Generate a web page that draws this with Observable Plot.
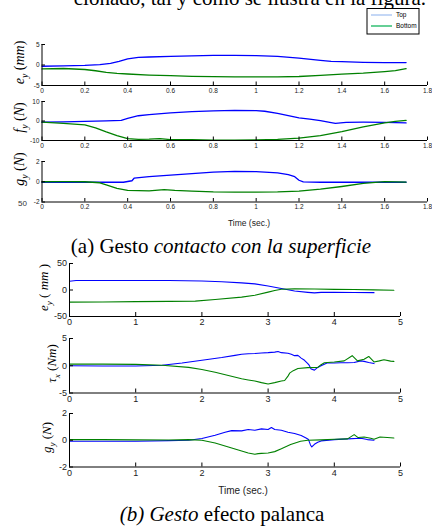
<!DOCTYPE html>
<html><head><meta charset="utf-8">
<script src="https://cdn.jsdelivr.net/npm/d3@7"></script>
<script src="https://cdn.jsdelivr.net/npm/@observablehq/plot@0.6"></script>
<style>
html,body{margin:0;padding:0;background:#fff;}
#page{position:relative;width:432px;height:526px;overflow:hidden;background:#fff;}
</style></head><body><div id="page"></div>
<script>
// ---------- data (a) contacto con la superficie ----------
const aXTicks = [0,0.2,0.4,0.6,0.8,1,1.2,1.4,1.6,1.8];
const aEyTicks = [-5,0,5];
const aFyTicks = [-10,0,10];
const aGyTicks = [-2,0,2];
const aEyTop = [[0,-0.3],[0.1,-0.2],[0.2,-0.1],[0.27,0.1],[0.32,0.4],[0.36,0.9],[0.4,1.5],[0.45,1.85],[0.5,1.95],[0.6,2.1],[0.7,2.25],[0.8,2.35],[0.9,2.35],[1.0,2.3],[1.1,2.1],[1.2,1.7],[1.3,1.15],[1.35,0.9],[1.4,0.8],[1.5,0.65],[1.6,0.6],[1.7,0.6]];
const aEyBot = [[0,-0.95],[0.1,-0.85],[0.2,-1.1],[0.25,-1.4],[0.3,-1.8],[0.35,-2.05],[0.4,-2.2],[0.5,-2.45],[0.6,-2.6],[0.7,-2.75],[0.8,-2.85],[0.9,-2.9],[1.0,-2.9],[1.1,-2.9],[1.2,-2.8],[1.3,-2.55],[1.4,-2.25],[1.5,-2.0],[1.6,-1.6],[1.65,-1.35],[1.7,-0.9]];
const aFyTop = [[0,-0.6],[0.1,-0.5],[0.2,-0.2],[0.3,0.1],[0.37,0.3],[0.4,1.3],[0.45,2.7],[0.5,3.3],[0.6,4.2],[0.7,4.8],[0.8,5.2],[0.9,5.5],[1.0,5.3],[1.04,5.0],[1.1,3.9],[1.15,2.7],[1.2,1.6],[1.25,1.0],[1.3,0.2],[1.35,-0.8],[1.37,-1.2],[1.42,-0.7],[1.5,-0.6],[1.6,-0.7],[1.7,-1.0]];
const aFyBot = [[0,-0.6],[0.1,-1.2],[0.2,-2.0],[0.25,-3.5],[0.3,-5.6],[0.35,-7.5],[0.4,-9.0],[0.45,-9.4],[0.5,-9.3],[0.55,-9.0],[0.6,-9.5],[0.7,-9.6],[0.8,-9.8],[0.9,-9.8],[1.0,-9.7],[1.1,-9.4],[1.2,-8.8],[1.3,-7.5],[1.4,-5.4],[1.5,-3.0],[1.6,-1.0],[1.65,-0.2],[1.7,0.3]];
const aGyTop = [[0,-0.07],[0.2,-0.05],[0.38,-0.05],[0.42,0.1],[0.43,0.35],[0.5,0.5],[0.6,0.65],[0.7,0.8],[0.8,0.95],[0.9,1.03],[1.0,1.0],[1.1,0.88],[1.15,0.7],[1.18,0.5],[1.2,0.15],[1.22,-0.02],[1.3,-0.05],[1.5,-0.05],[1.7,-0.05]];
const aGyBot = [[0,0.0],[0.1,0.02],[0.2,0.0],[0.27,-0.1],[0.3,-0.3],[0.35,-0.65],[0.4,-0.85],[0.5,-0.9],[0.57,-0.78],[0.62,-0.85],[0.7,-0.92],[0.8,-1.0],[0.9,-1.03],[1.0,-1.03],[1.1,-1.0],[1.2,-0.92],[1.3,-0.73],[1.4,-0.47],[1.5,-0.17],[1.6,0.02],[1.7,-0.03]];

// ---------- data (b) efecto palanca ----------
const bXTicks = [0,1,2,3,4,5];
const bEyTicks = [-50,0,50];
const bTxTicks = [-5,0,5];
const bGyTicks = [-2,0,2];
const bEyTop = [[0,16.5],[0.1,18],[1,18],[1.5,18],[2,17],[2.3,15.5],[2.6,13.5],[2.8,11.5],[3.0,7.5],[3.2,2.8],[3.4,-2],[3.6,-4.5],[3.7,-5.5],[3.8,-4.5],[4.0,-4.5],[4.3,-4.8],[4.6,-5]];
const bEyBot = [[0,-22.8],[0.5,-22.5],[1,-22],[1.5,-21.5],[1.9,-21],[2.2,-18],[2.6,-13.5],[2.8,-10],[3.0,-4],[3.1,-1],[3.2,1.5],[3.4,2.2],[3.7,1.8],[4.0,1.2],[4.3,1],[4.6,0.3],[4.9,-0.5]];
const bTxTop = [[0,0],[0.5,-0.05],[1,-0.05],[1.4,0.1],[1.7,0.5],[2.0,1.0],[2.3,1.5],[2.5,1.9],[2.6,2.1],[2.7,2.2],[2.8,2.25],[2.9,2.35],[3.0,2.4],[3.1,2.5],[3.15,2.6],[3.2,2.4],[3.3,2.3],[3.35,2.1],[3.4,1.85],[3.45,1.9],[3.5,1.4],[3.55,1.0],[3.6,0.4],[3.62,0.1],[3.65,-0.6],[3.7,-0.8],[3.75,-0.3],[3.8,0.0],[3.89,0.5],[4.0,0.5],[4.1,0.55],[4.2,0.55],[4.3,0.6],[4.4,0.9],[4.45,0.8],[4.52,0.6],[4.6,0.4]];
const bTxBot = [[0,0.3],[0.5,0.3],[1,0.25],[1.4,0.1],[1.8,-0.3],[2.0,-0.7],[2.2,-1.2],[2.4,-1.8],[2.6,-2.4],[2.7,-2.6],[2.8,-2.8],[2.9,-3.1],[3.0,-3.35],[3.1,-3.1],[3.2,-2.8],[3.25,-2.7],[3.3,-1.9],[3.33,-1.3],[3.38,-0.9],[3.45,-0.5],[3.6,-0.35],[3.75,-0.3],[3.8,0.2],[3.85,0.55],[4.0,0.7],[4.15,0.9],[4.27,1.85],[4.35,0.9],[4.45,1.2],[4.52,1.7],[4.6,0.7],[4.68,0.9],[4.75,1.1],[4.85,0.85],[4.9,0.8]];
const bGyTop = [[0,-0.07],[0.5,-0.08],[1,-0.07],[1.5,-0.03],[1.8,0.0],[2.0,0.13],[2.2,0.37],[2.35,0.6],[2.45,0.72],[2.6,0.7],[2.7,0.8],[2.8,0.75],[2.9,0.85],[3.0,0.8],[3.05,0.95],[3.1,0.8],[3.2,0.75],[3.3,0.6],[3.4,0.5],[3.5,0.35],[3.58,0.15],[3.61,0.05],[3.64,-0.35],[3.66,-0.5],[3.7,-0.3],[3.75,-0.15],[3.8,-0.05],[4.0,0.05],[4.2,0.1],[4.4,0.15],[4.5,0.05],[4.6,0.0]];
const bGyBot = [[0,0.05],[0.5,0.05],[1,0.03],[1.5,0.02],[1.8,0.05],[2.0,0.0],[2.2,-0.2],[2.4,-0.5],[2.5,-0.65],[2.6,-0.8],[2.7,-0.95],[2.8,-1.05],[2.85,-1.0],[2.9,-0.98],[3.0,-0.95],[3.1,-0.85],[3.2,-0.64],[3.34,-0.32],[3.49,-0.07],[3.6,0.0],[3.8,0.03],[4.0,0.07],[4.2,0.1],[4.3,0.42],[4.36,0.2],[4.45,0.24],[4.55,0.15],[4.6,0.07],[4.69,0.24],[4.8,0.2],[4.9,0.17]];

const seriesNames = ["Top","Bottom"];
const BLUE = "#0000ff", GREEN = "#008000";

const page = document.getElementById("page");

function panel(cfg) {
  const mt = 6, mb = 18;
  const h = cfg.bottom - cfg.top;
  const [y0, y1] = cfg.yDomain, [x0, x1] = cfg.xDomain;
  const ky = h / (y1 - y0), kx = (cfg.right - cfg.left) / (x1 - x0);
  const fmt = d => String(+d.toFixed(2));
  const plot = Plot.plot({
    width: 432, height: h + mt + mb,
    marginTop: mt, marginBottom: mb, marginLeft: cfg.left, marginRight: 432 - cfg.right,
    x: {domain: cfg.xDomain, axis: null},
    y: {domain: cfg.yDomain, axis: null},
    style: {background: "transparent", overflow: "visible", fontFamily: "'Liberation Sans', Arial, sans-serif"},
    marks: [
      Plot.line(cfg.top_s, {x: d => d[0], y: d => d[1], stroke: BLUE, strokeWidth: cfg.sw, strokeLinejoin: "round"}),
      Plot.line(cfg.bot_s, {x: d => d[0], y: d => d[1], stroke: GREEN, strokeWidth: cfg.sw, strokeLinejoin: "round"}),
      Plot.ruleY([y0], {x1: () => x0, x2: () => x1, stroke: "#000", strokeWidth: 1}),
      Plot.ruleX([x0], {y1: () => y0, y2: () => y1, stroke: "#000", strokeWidth: 1}),
      Plot.ruleX(cfg.xTicks, {x: d => d, y1: () => y0, y2: () => y0 + cfg.tick / ky, stroke: "#000"}),
      Plot.ruleY(cfg.yTicks, {y: d => d, x1: () => x0, x2: () => x0 + cfg.tick / kx, stroke: "#000"}),
      Plot.text(cfg.xTicks, {x: d => d, y: () => y0, text: fmt, lineAnchor: "top", dy: cfg.pad, fontSize: cfg.fs, fill: "#222"}),
      Plot.text(cfg.yTicks, {x: () => x0, y: d => d, text: fmt, textAnchor: "end", dx: -cfg.padY, fontSize: cfg.fs, fill: "#222"})
    ]
  });
  plot.style.position = "absolute";
  plot.style.left = "0px";
  plot.style.top = (cfg.top - mt) + "px";
  page.appendChild(plot);
}

const A = {left: 41.5, right: 427, xDomain: [0, 1.8], xTicks: aXTicks, fs: 6.5, pad: 2.5, padY: 2.5, tick: 3.5, sw: 1.3};
panel({...A, top: 43.5, bottom: 84.5, yDomain: [-5, 5], yTicks: aEyTicks, top_s: aEyTop, bot_s: aEyBot});
panel({...A, top: 101, bottom: 140, yDomain: [-10, 10], yTicks: aFyTicks, top_s: aFyTop, bot_s: aFyBot});
panel({...A, top: 161, bottom: 201.5, yDomain: [-2, 2], yTicks: aGyTicks, top_s: aGyTop, bot_s: aGyBot});

const B = {left: 69, right: 400, xDomain: [0, 5], xTicks: bXTicks, fs: 9, pad: 2.5, padY: 2.5, tick: 4, sw: 1.1};
panel({...B, top: 262.5, bottom: 315.5, yDomain: [-50, 50], yTicks: bEyTicks, top_s: bEyTop, bot_s: bEyBot});
panel({...B, top: 337.5, bottom: 392, yDomain: [-5, 5], yTicks: bTxTicks, top_s: bTxTop, bot_s: bTxBot});
panel({...B, top: 412.5, bottom: 466, yDomain: [-2, 2], yTicks: bGyTicks, top_s: bGyTop, bot_s: bGyBot});

// ---------- overlay texts ----------
const svg = d3.select(page).append("svg")
  .attr("width", 432).attr("height", 526)
  .style("position", "absolute").style("left", "0px").style("top", "0px")
  .style("pointer-events", "none");

const SERIF = "'Liberation Serif', 'Times New Roman', serif";
const SANS = "'Liberation Sans', Arial, sans-serif";

function ylab(x, y, fs, sym, sub, unit) {
  const t = svg.append("text")
    .attr("transform", `translate(${x},${y}) rotate(-90)`)
    .attr("text-anchor", "middle")
    .attr("font-family", SERIF).attr("font-size", fs).attr("fill", "#000");
  const off = fs * 0.28;
  t.append("tspan").attr("font-style", "italic").text(sym);
  t.append("tspan").attr("font-style", "italic").attr("font-size", fs * 0.7).attr("dy", off).text(sub);
  t.append("tspan").attr("dy", -off).text(" (");
  t.append("tspan").attr("font-style", "italic").text(unit);
  t.append("tspan").text(")");
}
ylab(24, 62.5, 14, "e", "y", "mm");
ylab(24, 117.5, 14, "f", "y", "N");
ylab(24, 169, 14, "g", "y", "N");
ylab(48, 287.5, 13, "e", "y", " mm ");
ylab(56, 363.5, 13, "τ", "x", "Nm");
ylab(51, 437.5, 13, "g", "y", "N");

// cropped sentence at top
svg.append("text").attr("x", 426).attr("y", 5).attr("text-anchor", "end")
  .attr("font-family", SERIF).attr("font-size", 21).attr("fill", "#000")
  .text("cionado, tal y como se ilustra en la figura.");

// legend
const lg = svg.append("g");
lg.append("rect").attr("x", 367).attr("y", 8.5).attr("width", 52).attr("height", 25.5)
  .attr("fill", "#fff").attr("stroke", "#000").attr("stroke-width", 1);
const lgColors = ["#9dbdf0", "#00b050"];
seriesNames.forEach((n, i) => {
  const yy = 15 + i * 11;
  lg.append("line").attr("x1", 371).attr("x2", 392).attr("y1", yy).attr("y2", yy)
    .attr("stroke", lgColors[i]).attr("stroke-width", 1.2);
  lg.append("text").attr("x", 396).attr("y", yy + 2.3).attr("font-family", SANS)
    .attr("font-size", 6.5).attr("fill", "#000").text(n);
});

// axis titles
svg.append("text").attr("x", 249).attr("y", 226).attr("text-anchor", "middle")
  .attr("font-family", SANS).attr("font-size", 8.5).attr("fill", "#222").text("Time (sec.)");
svg.append("text").attr("x", 243).attr("y", 493.5).attr("text-anchor", "middle")
  .attr("font-family", SANS).attr("font-size", 10).attr("fill", "#222").text("Time (sec.)");
svg.append("text").attr("x", 18).attr("y", 205.5)
  .attr("font-family", SANS).attr("font-size", 8).attr("fill", "#333").text("50");

// captions
const capA = svg.append("text").attr("x", 221).attr("y", 253).attr("text-anchor", "middle")
  .attr("font-family", SERIF).attr("font-size", 21).attr("fill", "#000");
capA.append("tspan").text("(a) Gesto ");
capA.append("tspan").attr("font-style", "italic").text("contacto con la superficie");

const capB = svg.append("text").attr("x", 222).attr("y", 521).attr("text-anchor", "middle")
  .attr("font-family", SERIF).attr("font-size", 21).attr("fill", "#000");
capB.append("tspan").attr("font-style", "italic").text("(b) Gesto");
capB.append("tspan").text(" efecto palanca");
</script></body></html>
